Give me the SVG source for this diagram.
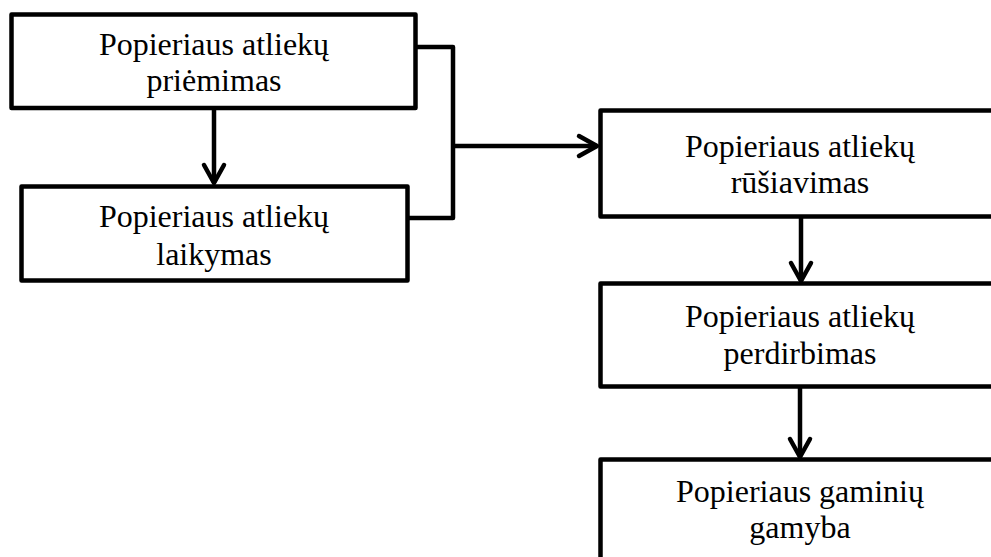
<svg xmlns="http://www.w3.org/2000/svg" width="991" height="557" viewBox="0 0 991 557">
<defs>
<style>
.box{fill:#fff;stroke:#000;stroke-width:4.5;stroke-linejoin:round}
.lbl{font-family:"Liberation Serif","Times New Roman",serif;font-size:32px;fill:#000;text-anchor:middle}
.con{fill:none;stroke:#000;stroke-width:4.5;stroke-linejoin:round}
</style>
<marker id="arr" markerUnits="userSpaceOnUse" markerWidth="30" markerHeight="30" viewBox="-24 -15 30 30" refX="0" refY="0" orient="auto">
<path d="M -18 -10 L 0 0 L -18 10" fill="none" stroke="#000" stroke-width="4.5" stroke-linecap="round" stroke-linejoin="round"/>
</marker>
</defs>
<rect width="991" height="557" fill="#fff"/>
<g id="n1">
<rect class="box" x="11.5" y="14.5" width="404" height="93.5"/>
<text class="lbl" x="214" y="55">Popieriaus atliekų</text>
<text class="lbl" x="214" y="91">priėmimas</text>
</g>
<g id="n2">
<rect class="box" x="21.5" y="186.5" width="386" height="94"/>
<text class="lbl" x="214" y="227">Popieriaus atliekų</text>
<text class="lbl" x="214" y="265">laikymas</text>
</g>
<g id="n3">
<rect class="box" x="600.5" y="110.5" width="400" height="106"/>
<text class="lbl" x="800" y="157">Popieriaus atliekų</text>
<text class="lbl" x="800" y="193">rūšiavimas</text>
</g>
<g id="n4">
<rect class="box" x="600.5" y="283.5" width="400" height="103"/>
<text class="lbl" x="800" y="327">Popieriaus atliekų</text>
<text class="lbl" x="800" y="364">perdirbimas</text>
</g>
<g id="n5">
<rect class="box" x="600.5" y="459.5" width="400" height="120"/>
<text class="lbl" x="800" y="502">Popieriaus gaminių</text>
<text class="lbl" x="800" y="538">gamyba</text>
</g>
<g id="connectors">
<path class="con" d="M 214 110 V 183" marker-end="url(#arr)"/>
<path class="con" d="M 417 47 H 453 V 218 H 409"/>
<path class="con" d="M 453 146 H 597" marker-end="url(#arr)"/>
<path class="con" d="M 801 218 V 281" marker-end="url(#arr)"/>
<path class="con" d="M 800 388 V 457" marker-end="url(#arr)"/>
</g>
</svg>
